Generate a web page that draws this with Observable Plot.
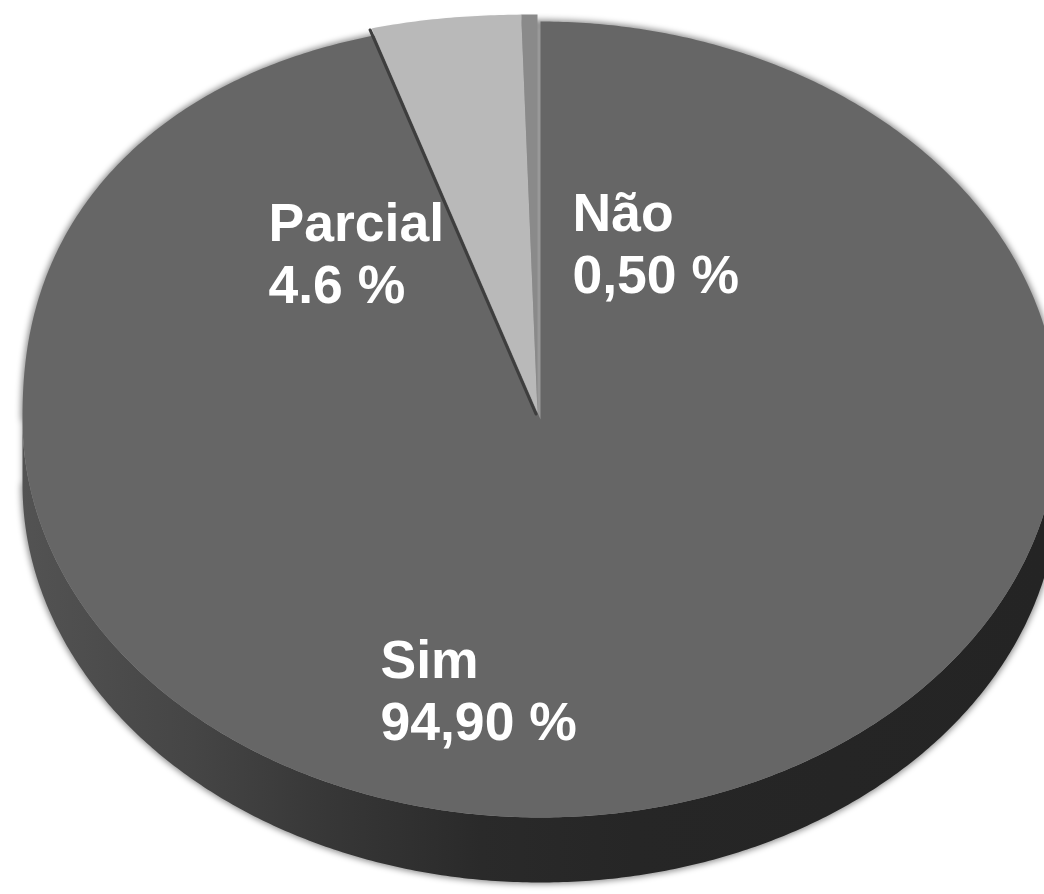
<!DOCTYPE html>
<html>
<head>
<meta charset="utf-8">
<script src="https://cdn.jsdelivr.net/npm/d3@7"></script>
<script src="https://cdn.jsdelivr.net/npm/@observablehq/plot@0.6"></script>
<style>
  html, body { margin: 0; padding: 0; background: #fff; }
  #chart svg { display: block; }
</style>
</head>
<body>
<div id="chart"></div>
<script>
// ---- data ----
const categories = ["Sim", "Parcial", "Não"];
const shares = [94.9, 4.6, 0.5];
const valueLabels = ["94,90 %", "4.6 %", "0,50 %"];

// ---- layout / style (not data) ----
const W = 1044, H = 894;
const pie = {cx: 540, cy: 419, rx: 518, ry: 398, depth: 65, bulge: 2.25};
const explode = [[0, 0], [-3, -7], [-3, -7]];
const topColors = ["#666666", "#b9b9b9", "#8a8a8a"];
const labelOffset = [[-160, 214], [-272, -223], [32, -233]];

const total = d3.sum(shares);
const starts = [];
let acc = 0;
for (const v of shares) { starts.push(acc / total * 2 * Math.PI); acc += v; }
const ends = shares.map((v, i) => starts[i] + v / total * 2 * Math.PI);

// radial scale of the projected rim (upper-left quadrant is slightly fuller in the original)
function rim(theta) {
  const t = ((theta % (2 * Math.PI)) + 2 * Math.PI) % (2 * Math.PI);
  if (t > 3 * Math.PI / 2) {
    const n = pie.bulge;
    const s = Math.pow(Math.abs(Math.sin(t)), n) + Math.pow(Math.abs(Math.cos(t)), n);
    return Math.pow(s, -1 / n);
  }
  return 1;
}
function pt(theta, dx, dy, dz) {
  const r = rim(theta);
  return [pie.cx + dx + pie.rx * r * Math.sin(theta), pie.cy + dy - pie.ry * r * Math.cos(theta) + dz];
}
function arc(a0, a1, dx, dy, dz) {
  const n = Math.max(2, Math.ceil(Math.abs(a1 - a0) / (Math.PI / 360)));
  const out = [];
  for (let k = 0; k <= n; k++) out.push(pt(a0 + (a1 - a0) * k / n, dx, dy, dz));
  return out;
}

// top faces
const faceRows = [];
categories.forEach((c, i) => {
  const [dx, dy] = explode[i];
  faceRows.push({key: c, x: pie.cx + dx, y: pie.cy + dy, color: topColors[i]});
  for (const [x, y] of arc(starts[i], ends[i], dx, dy, 0)) faceRows.push({key: c, x, y, color: topColors[i]});
});

// side wall (front half of the largest slice)
const sideRows = [];
categories.forEach((c, i) => {
  const a0 = Math.max(starts[i], Math.PI / 2), a1 = Math.min(ends[i], 3 * Math.PI / 2);
  if (a1 <= a0) return;
  const [dx, dy] = explode[i];
  const top = arc(a0, a1, dx, dy, 0);
  const bot = arc(a1, a0, dx, dy, pie.depth);
  for (const [x, y] of top.concat(bot)) sideRows.push({key: c, x, y});
});

// silhouette for soft shadow
const shadowRows = [];
for (const [x, y] of arc(3 * Math.PI / 2, 5 * Math.PI / 2, 0, 0, 0).concat(arc(Math.PI / 2, 3 * Math.PI / 2, 0, 0, pie.depth)))
  shadowRows.push({x, y});

// dark edge on the left radial side of "Parcial"
const pi = 1;
const edgeRows = [
  {x: pie.cx + explode[pi][0] - 1.5, y: pie.cy + explode[pi][1] + 1.5},
  (() => { const [x, y] = pt(starts[pi], explode[pi][0] - 1.5, explode[pi][1] + 1.5, 0); return {x, y}; })()
];

const labels = categories.map((c, i) => ({
  x: pie.cx + labelOffset[i][0],
  y: pie.cy + labelOffset[i][1],
  text: c + "\n" + valueLabels[i]
}));

const chart = Plot.plot({
  width: W,
  height: H,
  margin: 0,
  x: {domain: [0, W], range: [0, W], axis: null},
  y: {domain: [0, H], range: [0, H], axis: null},
  color: {type: "identity"},
  marks: [
    Plot.line(shadowRows, {x: "x", y: "y", fill: "#000", fillOpacity: 0.4, stroke: "#000", strokeOpacity: 0.4, strokeWidth: 3}),
    Plot.line(sideRows, {x: "x", y: "y", z: "key", fill: "url(#sideGrad)", stroke: "none"}),
    Plot.line(faceRows.filter(d => d.key === categories[0]), {x: "x", y: "y", z: "key", fill: "color", stroke: "none"}),
    Plot.line(edgeRows, {x: "x", y: "y", stroke: "#3e3e3e", strokeWidth: 3}),
    Plot.line(faceRows.filter(d => d.key !== categories[0]), {x: "x", y: "y", z: "key", fill: "color", stroke: "none"}),
    Plot.text(labels, {
      x: "x", y: "y", text: "text",
      textAnchor: "start", lineAnchor: "top", lineHeight: 1.16,
      fontSize: 53.5, fontWeight: "bold", fill: "white",
      fontFamily: "'Liberation Sans', Arial, sans-serif"
    })
  ]
});

// gradient + blur definitions
const svg = d3.select(chart);
const defs = svg.insert("defs", ":first-child");
const g = defs.append("linearGradient").attr("id", "sideGrad")
  .attr("gradientUnits", "userSpaceOnUse").attr("x1", 20).attr("x2", 1044).attr("y1", 0).attr("y2", 0);
[[0, "#535353"], [0.17, "#454545"], [0.3, "#373737"], [0.45, "#2a2a2a"], [0.6, "#262626"], [1, "#242424"]]
  .forEach(([o, c]) => g.append("stop").attr("offset", o).attr("stop-color", c));
defs.append("filter").attr("id", "softShadow").attr("x", "-10%").attr("y", "-10%").attr("width", "120%").attr("height", "120%")
  .append("feGaussianBlur").attr("stdDeviation", 3);
svg.selectAll("g[aria-label='line']").filter((d, i) => i === 0).attr("filter", "url(#softShadow)");

document.getElementById("chart").appendChild(chart);
</script>
</body>
</html>
